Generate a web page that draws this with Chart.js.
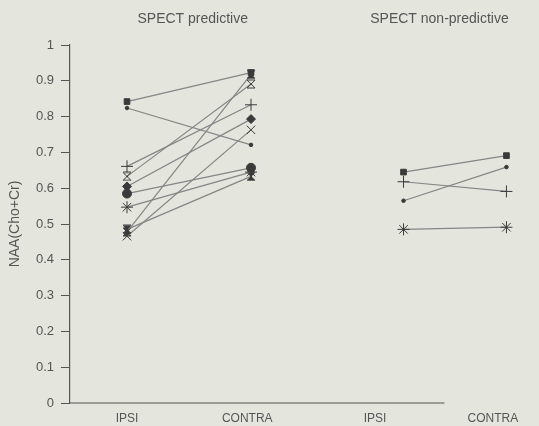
<!DOCTYPE html>
<html><head><meta charset="utf-8">
<script src="https://cdn.jsdelivr.net/npm/chart.js@4.4.1/dist/chart.umd.min.js"></script>
<style>html,body{margin:0;padding:0;background:#e4e6de;}#wrap{width:539px;height:426px;}</style>
</head><body><div id="wrap"><canvas id="c" width="539" height="426"></canvas></div>
<script>
// ---- data ----
const groupTitles = ['SPECT predictive', 'SPECT non-predictive'];
const categories = ['IPSI', 'CONTRA', 'IPSI', 'CONTRA'];
const categoryPos = [1.0, 1.97, 3.0, 3.95];   // x position of category labels
const titlePos = [1.53, 3.52];                // x position of group titles
const pointPos = [1, 2, 3.23, 4.06];          // x position of IPSI/CONTRA per group
const axisEnd = 3.56;                         // where the baseline stops
// SPECT predictive
const predIpsi   = [0.842, 0.824, 0.661, 0.633, 0.605, 0.585, 0.547, 0.485, 0.466, 0.478];
const predContra = [0.923, 0.721, 0.833, 0.891, 0.793, 0.657, 0.645, 0.633, 0.763, 0.918];
const predMarkers = ['rect', 'dot', 'cross', 'hourOpen', 'rectRot', 'circle', 'star', 'hourFill', 'crossRot', 'hourFill'];
// SPECT non-predictive
const nonIpsi   = [0.645, 0.565, 0.618, 0.485];
const nonContra = [0.691, 0.659, 0.591, 0.491];
const nonMarkers = ['rect', 'dot', 'cross', 'star'];

// ---- style ----
const INK = '#3a3a3a', LINE = '#858585', TXT = '#555555';
function hourglass(filled) {
  const c = document.createElement('canvas'); c.width = 10; c.height = 10;
  const g = c.getContext('2d');
  g.beginPath(); g.moveTo(1,1); g.lineTo(9,1); g.lineTo(5,5); g.lineTo(9,9); g.lineTo(1,9); g.lineTo(5,5); g.closePath();
  if (filled) { g.fillStyle = INK; g.fill(); }
  g.strokeStyle = INK; g.lineWidth = 1; g.stroke();
  return c;
}
const hourOpen = hourglass(false), hourFill = hourglass(true);
function markerProps(m) {
  switch (m) {
    case 'rect': return {pointStyle: 'rect', pointRadius: 4, pointBackgroundColor: INK};
    case 'dot': return {pointStyle: 'circle', pointRadius: 1.8, pointBackgroundColor: INK};
    case 'circle': return {pointStyle: 'circle', pointRadius: 4.5, pointBackgroundColor: INK};
    case 'cross': return {pointStyle: 'cross', pointRadius: 6, pointBackgroundColor: INK};
    case 'crossRot': return {pointStyle: 'crossRot', pointRadius: 6, pointBackgroundColor: INK};
    case 'star': return {pointStyle: 'star', pointRadius: 6, pointBackgroundColor: INK};
    case 'rectRot': return {pointStyle: 'rectRot', pointRadius: 4.5, pointBackgroundColor: INK};
    case 'hourOpen': return {pointStyle: hourOpen, pointRadius: 5};
    case 'hourFill': return {pointStyle: hourFill, pointRadius: 5};
  }
}
const datasets = [];
function addGroup(ipsi, contra, markers, xi, xc) {
  ipsi.forEach((v, i) => {
    datasets.push(Object.assign({
      data: [{x: xi, y: v}, {x: xc, y: contra[i]}],
      borderColor: LINE, borderWidth: 1.2, pointBorderColor: INK, pointBorderWidth: 1,
      showLine: true, clip: false, tension: 0
    }, markerProps(markers[i])));
  });
}
addGroup(predIpsi, predContra, predMarkers, pointPos[0], pointPos[1]);
addGroup(nonIpsi, nonContra, nonMarkers, pointPos[2], pointPos[3]);

const decor = {
  id: 'decor',
  afterDraw(chart) {
    const ctx = chart.ctx, xs = chart.scales.x, a = chart.chartArea;
    ctx.save();
    ctx.strokeStyle = '#555'; ctx.lineWidth = 1.2;
    ctx.beginPath(); ctx.moveTo(a.left, a.bottom); ctx.lineTo(xs.getPixelForValue(axisEnd), a.bottom); ctx.stroke();
    ctx.fillStyle = TXT; ctx.font = '14px "Liberation Sans", Arial, sans-serif';
    ctx.textAlign = 'center'; ctx.textBaseline = 'middle';
    groupTitles.forEach((t, i) => ctx.fillText(t, xs.getPixelForValue(titlePos[i]), 19));
    ctx.restore();
  }
};

new Chart(document.getElementById('c'), {
  type: 'scatter',
  data: {datasets},
  options: {
    responsive: false, animation: false,
    layout: {padding: {top: 45, right: 9, left: 0, bottom: 0}},
    plugins: {legend: {display: false}, tooltip: {enabled: false}},
    scales: {
      x: {
        type: 'linear', min: 0.5403, max: 4.25,
        grid: {display: false}, border: {display: false},
        afterBuildTicks: s => { s.ticks = categoryPos.map(v => ({value: v})); },
        afterFit: s => { s.height = 23; },
        ticks: {
          autoSkip: false, maxRotation: 0, padding: 0, color: TXT,
          font: {family: '"Liberation Sans", Arial, sans-serif', size: 12},
          callback: (v, i) => categories[i]
        }
      },
      y: {
        min: 0, max: 1,
        afterFit: s => { s.width = 70; },
        grid: {drawOnChartArea: false, drawTicks: true, tickLength: 9, color: '#555', lineWidth: 1},
        border: {display: true, color: '#555', width: 1.2},
        ticks: {stepSize: 0.1, padding: 7, color: TXT,
          font: {family: '"Liberation Sans", Arial, sans-serif', size: 13},
          callback: v => String(Number(v.toFixed(1)))},
        title: {display: true, text: 'NAA(Cho+Cr)', color: TXT, padding: {top: 7, bottom: 0},
          font: {family: '"Liberation Sans", Arial, sans-serif', size: 14}}
      }
    }
  },
  plugins: [decor]
});
</script></body></html>
